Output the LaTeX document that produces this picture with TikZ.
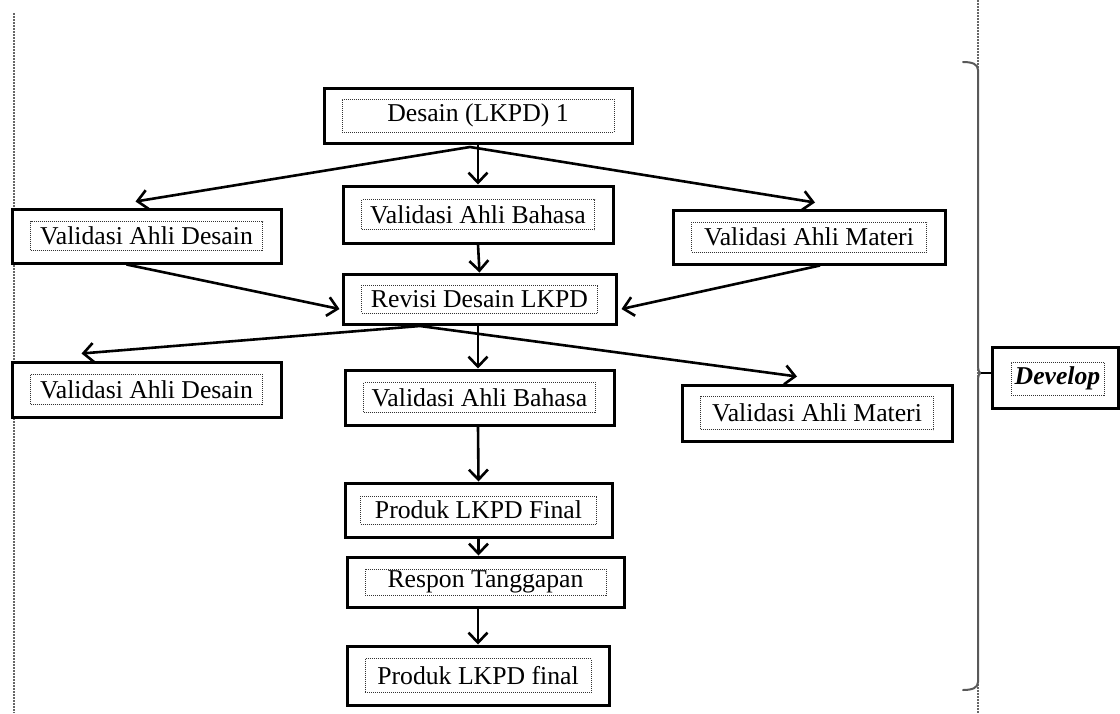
\documentclass[tikz,border=0pt]{standalone}
\usepackage{fontspec}
\setmainfont{Liberation Serif}
\usetikzlibrary{arrows.meta}
\tikzset{
  outerbox/.style={draw=black, line width=3pt, fill=white, inner sep=0pt},
  innerbox/.style={draw=black!80, line width=1pt, dash pattern=on 1pt off 1pt, inner sep=0pt,
    font=\fontsize{25.7}{30}\selectfont},
  arr/.style={line width=2.6pt, -{Straight Barb[length=10pt,width=19pt,line width=2.6pt]}},
  pagerule/.style={draw=black!60, line width=1.4pt, dash pattern=on 1.5pt off 1.5pt},
  bracestyle/.style={draw=black!65, line width=2pt, line cap=round}
}
\newcommand\mybox[8]{%
  \node[outerbox, minimum width=#4pt, minimum height=#5pt] (#1) at (#2,#3) {};
  \node[innerbox, minimum width=#6pt, minimum height=#7pt] (#1-t) at (#2,#3) {#8};
}
\begin{document}
\begin{tikzpicture}[x=1pt,y=-1pt]
\useasboundingbox (0,0) rectangle (1120,713);
\fill[white] (0,0) rectangle (1120,713);

% page rules
\coordinate (lt) at (14,13);
\coordinate (lb) at (14,713);
\coordinate (rt) at (978,0);
\coordinate (rb) at (978,713);
\draw[pagerule] (lt) -- (lb);
\draw[pagerule] (rt) -- (rb);

% boxes
\mybox{des}{478}{115.5}{308}{55}{272}{33}{Desain (LKPD) 1}
\mybox{vd1}{146.5}{236}{269}{54}{232}{29}{Validasi Ahli Desain}
\mybox{vb1}{478}{214.5}{270}{57}{233}{30}{Validasi Ahli Bahasa}
\mybox{vm1}{809}{237}{272}{54}{235}{30}{Validasi Ahli Materi}
\mybox{rev}{479.5}{299}{273}{50}{236}{28}{Revisi Desain LKPD}
\mybox{vd2}{146.5}{389.5}{269}{55}{232}{30}{Validasi Ahli Desain}
\mybox{vb2}{479.5}{397.5}{269}{55}{232}{30}{Validasi Ahli Bahasa}
\mybox{vm2}{817}{413}{270}{56}{233}{33}{Validasi Ahli Materi}
\mybox{pf}{478.5}{510}{267}{54}{236}{28}{Produk LKPD Final}
\mybox{resp}{485.5}{582}{277}{50}{241}{26}{Respon Tanggapan}
\mybox{fin}{478}{675.5}{262}{59}{226}{34}{Produk LKPD final}
\node[outerbox, minimum width=126pt, minimum height=61pt] (dev) at (1055,377.5) {};
\node[innerbox, minimum width=93pt, minimum height=33pt] (dev-t) at (1057.5,378.5) {\textbf{\textit{Develop}}};

% fork points
\coordinate (f1) at (470,147);
\coordinate (f2) at (420,326);

% connectors
\draw[arr] (f1) -- ([xshift=-11pt,yshift=6pt]vd1.north);
\draw[arr] (f1) -- ([xshift=6pt,yshift=6pt]vm1.north);
\draw[arr] (des.south) -- (vb1.north);
\draw[arr] (vb1.south) -- (rev.north);
\draw[arr] ([xshift=-20pt]vd1.south) -- ([xshift=-2pt,yshift=-10pt]rev.west);
\draw[arr] ([xshift=11pt]vm1.south) -- ([xshift=4pt,yshift=-10pt]rev.east);
\draw[arr] (f2) -- ([xshift=-65pt,yshift=7pt]vd2.north);
\draw[arr] (f2) -- ([xshift=-20pt,yshift=7pt]vm2.north);
\draw[arr] ([xshift=-1.5pt]rev.south) -- ([xshift=-1.5pt]rev.south |- vb2.north);
\draw[arr] ([xshift=-1.5pt]vb2.south) -- (pf.north);
\draw[arr] (pf.south) -- (pf.south |- resp.north);
\draw[arr] (fin.north |- resp.south) -- (fin.north);

% brace
\coordinate (btip) at (981,373);
\draw[bracestyle] (963,62) .. controls (972,62) and (978,64) .. (978,70)
  -- (978,365) .. controls (978,370) and (979,373) .. (btip)
  .. controls (979,373) and (978,376) .. (978,381)
  -- (978,682) .. controls (978,688) and (972,690) .. (963,690);
\draw[line width=2pt] (btip) -- (btip -| dev.west);
\end{tikzpicture}
\end{document}
